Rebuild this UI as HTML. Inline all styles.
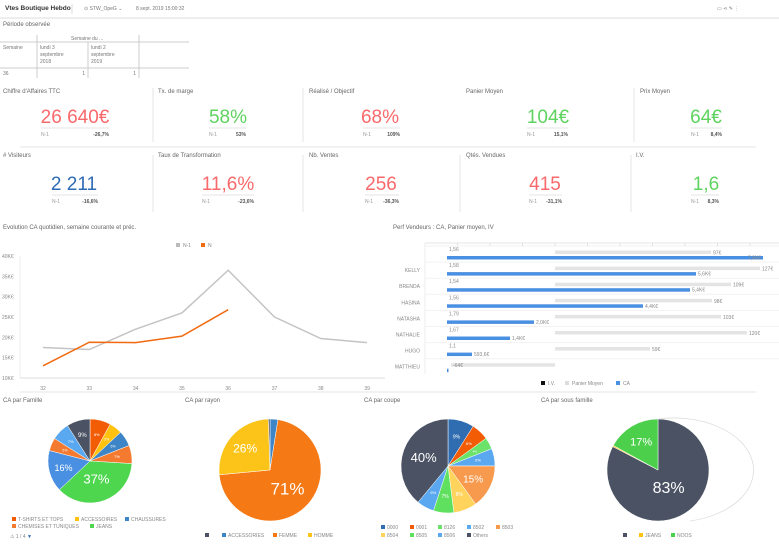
<!DOCTYPE html>
<html><head><meta charset="utf-8"><style>
html,body{margin:0;padding:0;background:#fff;width:779px;height:544px;overflow:hidden}
svg{display:block;font-family:"Liberation Sans",sans-serif}
.t{font-size:6px;fill:#666}
.s{font-size:5px;fill:#777}
.v{font-size:19px;text-anchor:middle}
.n{font-size:5px;fill:#999}
.p{font-size:5px;fill:#555;font-weight:bold;text-anchor:end}
.ax{font-size:5px;fill:#888}
.w{fill:#fff;text-anchor:middle}
</style></head><body>
<svg id="c" width="779" height="544" viewBox="0 0 779 544">
<rect width="779" height="544" fill="#fff"/>
<text x="5" y="10" style="font-size:6.5px;font-weight:bold;fill:#333">Vtes Boutique Hebdo</text>
<line x1="72" y1="4" x2="72" y2="14" stroke="#ddd"/>
<text x="84" y="10" class="s">⊙ STW_OpeG ⌄</text>
<text x="136" y="10" class="s">8 sept. 2019 15:00:32</text>
<text x="717" y="10" class="s">▭  ⋖  ✎  ⋮</text>
<line x1="0" y1="18" x2="779" y2="18" stroke="#eee" stroke-width="2"/>
<text x="3" y="26" class="t">Période observée</text>
<text x="71" y="40" class="s">Semaine du ...</text>
<line x1="0" y1="42" x2="189" y2="42" stroke="#ccc"/>
<line x1="0" y1="68" x2="189" y2="68" stroke="#ccc"/>
<line x1="37" y1="35" x2="37" y2="78" stroke="#ccc"/>
<line x1="88" y1="42" x2="88" y2="78" stroke="#ccc"/>
<line x1="139" y1="35" x2="139" y2="78" stroke="#ccc"/>
<text x="3" y="49" class="s">Semaine</text>
<text x="40" y="49" class="s">lundi 3</text><text x="40" y="56" class="s">septembre</text><text x="40" y="63" class="s">2018</text>
<text x="91" y="49" class="s">lundi 2</text><text x="91" y="56" class="s">septembre</text><text x="91" y="63" class="s">2019</text>
<text x="3" y="75" class="s">36</text>
<text x="85" y="75" class="s" text-anchor="end">1</text>
<text x="136" y="75" class="s" text-anchor="end">1</text>
<g stroke="#e4e4e4">
<line x1="153" y1="88" x2="153" y2="142"/><line x1="303" y1="88" x2="303" y2="142"/><line x1="634" y1="88" x2="634" y2="142"/>
<line x1="153" y1="155" x2="153" y2="212"/><line x1="303" y1="155" x2="303" y2="212"/><line x1="460" y1="155" x2="460" y2="212"/><line x1="631" y1="155" x2="631" y2="212"/>
</g>
<line x1="20" y1="147" x2="756" y2="147" stroke="#eee" stroke-width="1.5"/>
<g class="t">
<text x="3" y="93">Chiffre d'Affaires TTC</text><text x="158" y="93">Tx. de marge</text><text x="309" y="93">Réalisé / Objectif</text><text x="466" y="93">Panier Moyen</text><text x="640" y="93">Prix Moyen</text>
<text x="3" y="157">#  Visiteurs</text><text x="158" y="157">Taux de Transformation</text><text x="309" y="157">Nb. Ventes</text><text x="466" y="157">Qtés. Vendues</text><text x="636" y="157">I.V.</text>
</g>
<g id="kpi"></g>
<text x="3" y="229" class="t">Evolution CA quotidien, semaine courante et préc.</text>
<rect x="176" y="243" width="4" height="4" fill="#bbb"/><text x="183" y="247" class="ax">N-1</text>
<rect x="201" y="243" width="4" height="4" fill="#f26a0f"/><text x="208" y="247" class="ax">N</text>
<g id="lc"></g>
<text x="393" y="229" class="t">Perf Vendeurs : CA, Panier moyen, IV</text>
<g id="bc"></g>
<rect x="541" y="381" width="4" height="4" fill="#111"/><text x="548" y="385" class="ax">I.V.</text>
<rect x="565" y="381" width="4" height="4" fill="#ddd"/><text x="572" y="385" class="ax">Panier Moyen</text>
<rect x="616" y="381" width="4" height="4" fill="#4a90e2"/><text x="623" y="385" class="ax">CA</text>
<line x1="20" y1="392" x2="756" y2="392" stroke="#eee" stroke-width="1.5"/>
<text x="3" y="402" class="t">CA par Famille</text>
<text x="185" y="402" class="t">CA par rayon</text>
<text x="364" y="402" class="t">CA par coupe</text>
<text x="541" y="402" class="t">CA par sous famille</text>
<path d="M658 419 A78 51 0 0 1 690 521" fill="none" stroke="#ddd" stroke-width="0.8"/>
<g id="pies"></g>
<g id="leg"></g>
<text x="10" y="538" class="ax">⚠ 1 / 4 <tspan fill="#2e6bb5">▼</tspan></text>
</svg>
<script>
var NS="http://www.w3.org/2000/svg";
function el(p,tag,a,txt){var e=document.createElementNS(NS,tag);for(var k in a)e.setAttribute(k,a[k]);if(txt!=null)e.textContent=txt;document.getElementById(p).appendChild(e);return e;}
var R="#f8696b",G="#5fd35f",B="#2e6bb5";
var k=[["26 640€",75,123,R,41,109,"-26,7%"],["58%",228,123,G,209,246,"53%"],["68%",380,123,R,363,400,"109%"],["104€",548,123,G,527,568,"15,1%"],["64€",706,123,G,691,722,"8,4%"],
["2 211",74,190,B,52,98,"-16,6%"],["11,6%",228,190,R,202,254,"-23,6%"],["256",381,190,R,365,399,"-36,3%"],["415",545,190,R,529,562,"-31,1%"],["1,6",706,190,G,691,719,"8,3%"]];
k.forEach(function(a){el("kpi","text",{x:a[1],y:a[2],"class":"v",fill:a[3]},a[0]);
el("kpi","line",{x1:a[4],y1:a[2]+5,x2:a[5],y2:a[2]+5,stroke:"#e6e6e6"});
el("kpi","text",{x:a[4],y:a[2]+13,"class":"n"},"N-1");el("kpi","text",{x:a[5],y:a[2]+13,"class":"p"},a[6]);});
function Y(v){return 378-(v-10)/30*122;}function X(i){return 43+i*46.3;}
for(var v=10;v<=40;v+=5){el("lc","text",{x:2,y:Y(v)+2,"class":"ax"},v+"K€");}
el("lc","line",{x1:20,y1:378,x2:385,y2:378,stroke:"#ddd"});
el("lc","line",{x1:20,y1:256,x2:20,y2:378,stroke:"#eee"});
for(var i=0;i<8;i++)el("lc","text",{x:X(i),y:390,"class":"ax","text-anchor":"middle"},32+i);
var a1=[17.5,17,22,26,36.5,25,19.7,18.7],a2=[13,18.8,18.7,20.3,26.8];
el("lc","polyline",{points:a1.map(function(v,i){return X(i)+","+Y(v)}).join(" "),fill:"none",stroke:"#c4c4c4","stroke-width":1.5});
el("lc","polyline",{points:a2.map(function(v,i){return X(i)+","+Y(v)}).join(" "),fill:"none",stroke:"#f26a0f","stroke-width":1.5});
for(var gx=425;gx<779;gx+=32.5)el("bc","line",{x1:gx,y1:243,x2:gx,y2:246,stroke:"#ddd"});
el("bc","line",{x1:425,y1:243,x2:779,y2:243,stroke:"#e6e6e6"});
el("bc","line",{x1:425,y1:243,x2:425,y2:374,stroke:"#eee"});
var rows=[["","1,56",711,"97€",763,"7,8K€"],["KELLY","1,58",760,"127€",696,"5,6K€"],["BRENDA","1,54",731,"109€",690,"5,4K€"],["HASINA","1,56",712,"98€",643,"4,4K€"],["NATASHA","1,79",721,"103€",534,"2,0K€"],["NATHALIE","1,67",747,"120€",510,"1,4K€"],["HUGO","1,1",650,"59€",472,"593,6€"],["MATTHIEU","",555,"-64€",446,""]];
rows.forEach(function(r,i){var gy=252+i*16.1;
el("bc","line",{x1:425,y1:gy-6,x2:779,y2:gy-6,stroke:"#f2f2f2"});
if(r[0])el("bc","text",{x:420,y:gy+4,"class":"ax","text-anchor":"end"},r[0]);
if(r[1])el("bc","text",{x:449,y:gy-1,"class":"ax"},r[1]);
if(i<7){el("bc","rect",{x:555,y:gy-1.5,width:r[2]-555,height:3.5,fill:"#e4e4e4"});el("bc","text",{x:r[2]+2,y:gy+2.5,"class":"ax"},r[3]);}
else{el("bc","rect",{x:451,y:gy-1.5,width:104,height:3.5,fill:"#e4e4e4"});el("bc","text",{x:453,y:gy+2.5,"class":"ax"},r[3]);}
el("bc","rect",{x:447,y:gy+4,width:Math.max(r[4]-447,1.5),height:3.5,fill:"#4a90e2"});
if(r[5])el("bc","text",{x:i==0?748:r[4]+2,y:gy+7.5,"class":"ax"},r[5]);});
function pie(cx,cy,r,sl){var a=0;sl.forEach(function(s){var a0=a*2*Math.PI/100-Math.PI/2;a+=s[0];var a1=a*2*Math.PI/100-Math.PI/2;
var l=s[0]>50?1:0;el("pies","path",{d:"M"+cx+" "+cy+" L"+(cx+r*Math.cos(a0))+" "+(cy+r*Math.sin(a0))+" A"+r+" "+r+" 0 "+l+" 1 "+(cx+r*Math.cos(a1))+" "+(cy+r*Math.sin(a1))+"Z",fill:s[1],stroke:"#fff","stroke-width":0.5});
if(s[2]){var m=(a0+a1)/2,d=s[3]||0.65;el("pies","text",{x:cx+r*d*Math.cos(m),y:cy+r*d*Math.sin(m)+s[2]*0.35,"class":"w","font-size":s[2]},(s[4]||s[0])+"%");}});}
pie(90,461,42,[[8,"#f25c05",4],[5,"#ffc20e",3.5],[6,"#3d85c6",3.5],[7,"#f47a30",4],[37,"#4fd64f",13,0.45],[16,"#4a90e2",9],[5,"#f47a30",3.5],[7,"#5aa9f0",4],[9,"#4a5263",6]]);
pie(270,470,51,[[2.5,"#3d85c6"],[71,"#f57914",17,0.5],[26,"#fcc419",12],[0.5,"#4a5263"]]);
pie(448,466,47,[[9,"#2f6cb0",5],[6,"#f25c05",4],[4,"#6be36b",3],[6,"#5aa9f0",4],[15,"#f79a4d",10,0.6],[8,"#ffd35c",5],[7,"#5fe05f",5],[6,"#5aa9f0",4],[39,"#4a5263",13,0.55,40]]);
pie(658,470,51,[[82.6,"#4a5263",16,0.4,83],[0.4,"#ffc20e"],[17,"#4cd04c",11]]);
function lg(x,y,c,t){el("leg","rect",{x:x,y:y-4,width:4,height:4,fill:c});el("leg","text",{x:x+6,y:y,"class":"ax"},t);}
lg(12,521,"#f25c05","T-SHIRTS ET TOPS");lg(75,521,"#ffc20e","ACCESSOIRES");lg(125,521,"#3d85c6","CHAUSSURES");
lg(12,528,"#f47a30","CHEMISES ET TUNIQUES");lg(90,528,"#4fd64f","JEANS");
lg(205,537,"#4a5263","");lg(222,537,"#3d85c6","ACCESSORIES");lg(273,537,"#f57914","FEMME");lg(308,537,"#fcc419","HOMME");
lg(381,529,"#2f6cb0","0000");lg(410,529,"#f25c05","0001");lg(438,529,"#6be36b","8126");lg(467,529,"#5aa9f0","8502");lg(496,529,"#f79a4d","8503");
lg(381,537,"#ffd35c","8504");lg(410,537,"#5fe05f","8505");lg(438,537,"#5aa9f0","8506");lg(467,537,"#4a5263","Others");
lg(623,537,"#4a5263","");lg(639,537,"#ffc20e","JEANS");lg(671,537,"#4cd04c","NOOS");
</script>
</body></html>
